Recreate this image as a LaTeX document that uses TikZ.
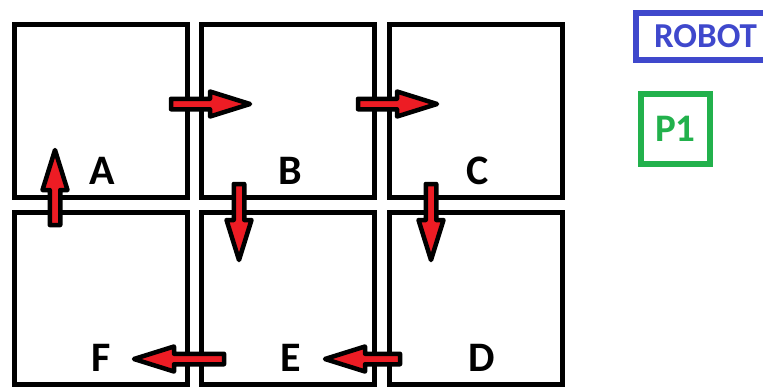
\documentclass[tikz,border=0pt]{standalone}
\usepackage{fontspec}
\setmainfont{Carlito}
\usetikzlibrary{calc}
\definecolor{paintred}{HTML}{ED1C24}
\definecolor{paintindigo}{HTML}{3F48CC}
\definecolor{paintgreen}{HTML}{22B14C}
\tikzset{
  cell/.style={draw=black, line width=5pt, minimum width=173pt, minimum height=172.5pt, inner sep=0pt},
  lbl/.style={font=\fontsize{42}{42}\selectfont\bfseries, inner sep=0pt},
  flowarrow/.style={fill=paintred, draw=black, line width=4.5pt, line join=round},
}
% block arrow from tail coordinate #1 to tip coordinate #2
\newcommand\blockarrow[2]{%
  \coordinate (hb) at ($(#2)!40pt!(#1)$);
  \filldraw[flowarrow]
    ($(#1)!5.25pt!90:(#2)$) -- ($(hb)!5.25pt!90:(#2)$) -- ($(hb)!12.5pt!90:(#2)$)
    -- (#2) -- ($(hb)!12.5pt!-90:(#2)$) -- ($(hb)!5.25pt!-90:(#2)$)
    -- ($(#1)!5.25pt!-90:(#2)$) -- cycle;
}
\begin{document}
\begin{tikzpicture}[x=1pt, y=-1pt]
  \clip (0,0) rectangle (763,386);

  % grid of cells
  \node[cell] (A) at (101,110.75) {};
  \node[cell] (B) at (288.25,110.75) {};
  \node[cell] (C) at (475.75,110.75) {};
  \node[cell] (F) at (101,298.25) {};
  \node[cell] (E) at (288.25,298.25) {};
  \node[cell] (D) at (475.75,298.25) {};

  % cell letters
  \node[lbl] (lA) at (102,170.5) {A};
  \node[lbl] (lB) at (290,170.5) {B};
  \node[lbl] (lC) at (478,170.5) {C};
  \node[lbl] (lF) at (101.5,358) {F};
  \node[lbl] (lE) at (291,358) {E};
  \node[lbl] (lD) at (481.5,358) {D};

  % arrow end points
  \coordinate (ab-t) at (171,104);   \coordinate (ab-h) at (250,104);
  \coordinate (bc-t) at (358,104);   \coordinate (bc-h) at (437,104);
  \coordinate (be-t) at (239,184);   \coordinate (be-h) at (239,260);
  \coordinate (cd-t) at (431,184);   \coordinate (cd-h) at (431,260);
  \coordinate (de-t) at (400,359);   \coordinate (de-h) at (325,359);
  \coordinate (ef-t) at (224,359);   \coordinate (ef-h) at (134,359);
  \coordinate (fa-t) at (55,225);    \coordinate (fa-h) at (55,150);

  \blockarrow{ab-t}{ab-h}
  \blockarrow{bc-t}{bc-h}
  \blockarrow{be-t}{be-h}
  \blockarrow{cd-t}{cd-h}
  \blockarrow{de-t}{de-h}
  \blockarrow{ef-t}{ef-h}
  \blockarrow{fa-t}{fa-h}

  % legend
  \node[draw=paintindigo, line width=6pt, text=paintindigo, font=\fontsize{35}{35}\selectfont\bfseries,
        minimum width=139pt, minimum height=47pt, inner sep=0pt] (robot) at (705.5,36.5) {ROBOT};
  \node[draw=paintgreen, line width=6pt, text=paintgreen, font=\fontsize{39}{39}\selectfont\bfseries,
        minimum width=69pt, minimum height=70pt, inner sep=0pt] (p1) at (675.5,129) {P1};
\end{tikzpicture}
\end{document}
